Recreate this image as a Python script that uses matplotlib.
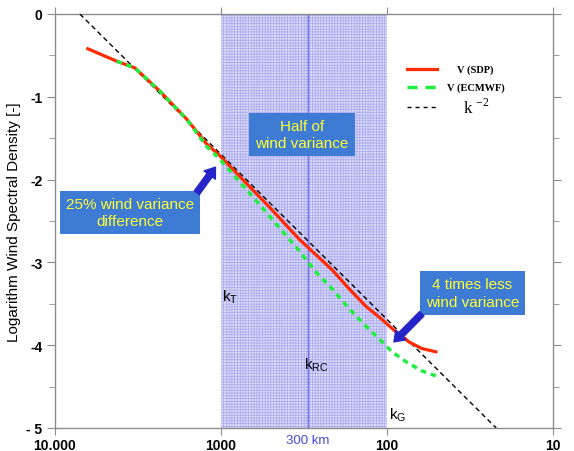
import matplotlib
matplotlib.use("Agg")
import matplotlib.pyplot as plt
import matplotlib.ticker as ticker

plt.rcParams['font.family'] = ['Liberation Sans', 'DejaVu Sans']
plt.rcParams['hatch.linewidth'] = 0.5

# wavelength in km, log spectral density
sdp_wavelength = [6340, 4250, 3310, 2340, 1610, 1220, 1020, 512, 338, 214,
                  169, 134, 107, 88.3, 73.8, 61.7, 50.8]
sdp_density = [-0.42, -0.57, -0.65, -0.93, -1.27, -1.57, -1.71, -2.33, -2.72,
               -3.09, -3.32, -3.53, -3.69, -3.84, -3.96, -4.04, -4.08]

ecmwf_wavelength = [4250, 3310, 2340, 1610, 1220, 1020, 587, 338, 267, 214,
                    169, 134, 107, 93.3, 76.9, 61.7, 50.8]
ecmwf_density = [-0.57, -0.65, -0.93, -1.27, -1.60, -1.75, -2.30, -2.86,
                 -3.12, -3.32, -3.56, -3.77, -3.96, -4.08, -4.20, -4.31, -4.37]

# k^-2 reference slope
kref_wavelength = [7080, 22]
kref_density = [0, -5]

mesoscale_band = [100, 1000]
rc_wavelength = 300

xtick_values = [10000, 1000, 100, 10]
xtick_labels = ['10.000', '1000', '100', '10']
ytick_values = [0, -1, -2, -3, -4, -5]
ytick_labels = ['0', '-1', '-2', '-3', '-4', '- 5']

fig = plt.figure(figsize=(5.74, 4.52), dpi=100)
ax = fig.add_axes([55 / 574, 1 - 429 / 452, 498 / 574, 414 / 452])

ax.set_xscale('log')
ax.set_xlim(10000, 10)
ax.set_ylim(-5, 0)

# hatched band between 1000 and 100 km
ax.axvspan(mesoscale_band[0], mesoscale_band[1], facecolor='#D9D9F8',
           edgecolor='#A9A9EE', hatch='++++++', linewidth=0, zorder=0)
ax.axvline(rc_wavelength, color='#7272E6', lw=1, zorder=1)

ax.plot(kref_wavelength, kref_density, color='black', lw=1,
        dashes=(3.5, 2.5), zorder=3)
ax.plot(sdp_wavelength, sdp_density, color='#FF2A00', lw=2.3, zorder=4)
ax.plot(ecmwf_wavelength, ecmwf_density, color='#1FEE3F', lw=2.5,
        dashes=(1.6, 1.4), zorder=5)

# axes styling
for side in ['left', 'right', 'top', 'bottom']:
    ax.spines[side].set_color('#8C8C8C')
    ax.spines[side].set_linewidth(1)

ax.xaxis.set_major_locator(ticker.FixedLocator(xtick_values))
ax.xaxis.set_major_formatter(ticker.FixedFormatter(xtick_labels))
ax.xaxis.set_minor_locator(ticker.NullLocator())
ax.tick_params(axis='x', which='major', direction='out', length=5,
               color='#8C8C8C', top=True, labeltop=False, pad=2)

ax.yaxis.set_major_locator(ticker.FixedLocator(ytick_values))
ax.yaxis.set_major_formatter(ticker.FixedFormatter(ytick_labels))
ax.yaxis.set_minor_locator(ticker.MultipleLocator(0.5))
ax.tick_params(axis='y', which='both', direction='out', color='#8C8C8C',
               right=True, labelright=False)
ax.tick_params(axis='y', which='major', length=6, pad=3)
ax.tick_params(axis='y', which='minor', length=4)

for lab in ax.get_xticklabels() + ax.get_yticklabels():
    lab.set_fontweight('bold')
    lab.set_fontsize(10)

ax.set_ylabel('Logarithm Wind Spectral Density [-]', fontsize=11, labelpad=4)

# wavenumber markers
ax.text(990, -3.41, r'k$_\mathregular{T}$', fontsize=11, ha='left', va='center')
ax.text(315, -4.23, r'k$_\mathregular{RC}$', fontsize=11, ha='left', va='center')
ax.text(97, -4.83, r'k$_\mathregular{G}$', fontsize=11, ha='left', va='center')
ax.text(rc_wavelength, -5.07, '300 km', color='#4646E0', fontsize=9.5,
        ha='center', va='top')

# callout boxes
box_style = dict(boxstyle='square,pad=0.4', facecolor='#3E7BD4',
                 edgecolor='none')
ax.text(3520, -2.40, '25% wind variance\ndifference', color='#FFFF33',
        fontsize=11, ha='center', va='center', bbox=box_style, zorder=6,
        linespacing=1.3)
ax.text(326, -1.455, 'Half of\nwind variance', color='#FFFF33',
        fontsize=11, ha='center', va='center', bbox=box_style, zorder=6,
        linespacing=1.3)
ax.text(30.6, -3.37, '4 times less\nwind variance', color='#FFFF33',
        fontsize=11, ha='center', va='center', bbox=box_style, zorder=6,
        linespacing=1.3)

arrow_props = dict(arrowstyle='simple,head_length=0.7,head_width=1.0,tail_width=0.45',
                   color='#2424C8', shrinkA=0, shrinkB=0)
ax.annotate('', xy=(1080, -1.85), xytext=(1400, -2.16), arrowprops=arrow_props,
            zorder=7)
ax.annotate('', xy=(90.8, -3.96), xytext=(61.7, -3.62), arrowprops=arrow_props,
            zorder=7)

# legend drawn by hand
legend_rows = [
    (-0.665, dict(color='#FF2A00', lw=2.3), 'V (SDP)',
     dict(family='Liberation Serif', fontweight='bold', fontsize=7.5)),
    (-0.88, dict(color='#1FEE3F', lw=2.5, dashes=(2.9, 2.3)), 'V (ECMWF)',
     dict(family='Liberation Serif', fontweight='bold', fontsize=7.5)),
    (-1.12, dict(color='black', lw=1, dashes=(2.9, 2.9)),
     r'k $^\mathregular{-2}$', dict(family='Liberation Serif', fontsize=12)),
]
for y, line_kw, label, text_kw in legend_rows:
    ax.plot([75.9, 50.1], [y, y], **line_kw)
    ax.text(29.2, y, label, ha='center', va='center', **text_kw)

fig.savefig('out.png', dpi=100)
